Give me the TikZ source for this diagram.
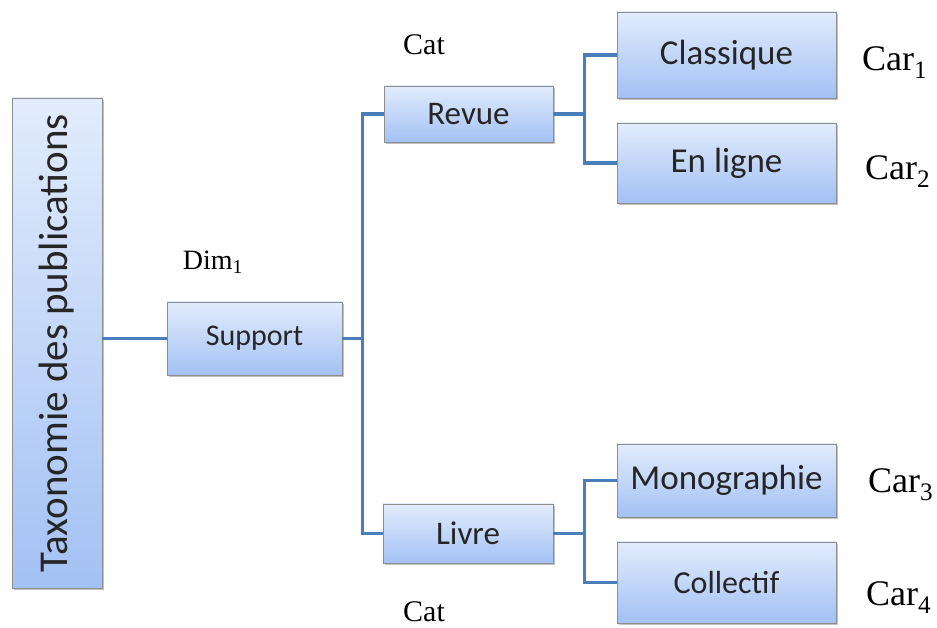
\documentclass[tikz,border=0pt]{standalone}
\usepackage{fontspec}
\usepackage{graphicx}
\setmainfont{Liberation Serif}
\newfontfamily\boxfont{Carlito}
\usetikzlibrary{shadows}
\definecolor{boxtop}{HTML}{E2ECFC}
\definecolor{boxbot}{HTML}{A3C1F4}
\definecolor{boxline}{HTML}{8E8E8E}
\definecolor{linkblue}{HTML}{4A7EBB}

\begin{document}
\begin{tikzpicture}[
  x=1pt, y=1pt,
  box/.style={draw=boxline, line width=0.8pt, top color=boxtop,
    bottom color=boxbot, inner sep=2pt, text=black!85,
    font={\boxfont\fontsize{#1}{#1}\selectfont},
    drop shadow={shadow xshift=1.5pt, shadow yshift=-2.5pt,
      opacity=0.35, fill=black!70}},
  box/.default=33,
  lab/.style={font={\fontsize{#1}{#1}\selectfont}, inner sep=0pt},
  lab/.default=30,
  link/.style={draw=linkblue, line width=3.6pt}
]
\useasboundingbox (0,0) rectangle (937,628);

\node[box=41, minimum width=90pt, minimum height=490pt] (tax) at (57,285)
  {\rotatebox{90}{Taxonomie des publications}};
\node[box=30, minimum width=175pt, minimum height=73pt] (sup) at (254.5,289.5) {Support};
\node[box=33, minimum width=169pt, minimum height=56pt] (revue) at (468.5,514) {Revue};
\node[box=33, minimum width=170pt, minimum height=59pt] (livre) at (468,94.5) {Livre};
\node[box=35, minimum width=219pt, minimum height=86pt] (classique) at (726.5,573) {Classique};
\node[box=35, minimum width=219pt, minimum height=80pt] (enligne) at (726.5,465) {En ligne};
\node[box=35, minimum width=219pt, minimum height=73pt] (mono) at (726.5,147.5) {Monographie};
\node[box=32, minimum width=219pt, minimum height=81pt] (collectif) at (726.5,45.5) {Collectif};

\node[lab=28] (dim) at (213,366) {Dim\textsubscript{1}};
\node[lab=30] (cattop) at (424,583) {Cat};
\node[lab=30] (catbot) at (424,16) {Cat};
\node[lab=36, anchor=west] (car1) at (862,565) {Car\textsubscript{1}};
\node[lab=36, anchor=west] (car2) at (865,456) {Car\textsubscript{2}};
\node[lab=36, anchor=west] (car3) at (868,143) {Car\textsubscript{3}};
\node[lab=36, anchor=west] (car4) at (866,30) {Car\textsubscript{4}};

\draw[link] (tax.east |- sup.west) -- (sup.west);
\draw[link] (sup.east) -- ++(20,0) |- (revue.west);
\draw[link] (sup.east) -- ++(20,0) |- (livre.west);
\draw[link] (revue.east) -- ++(31,0) |- (classique.west);
\draw[link] (revue.east) -- ++(31,0) |- (enligne.west);
\draw[link] (livre.east) -- ++(31,0) |- (mono.west);
\draw[link] (livre.east) -- ++(31,0) |- (collectif.west);
\end{tikzpicture}
\end{document}
